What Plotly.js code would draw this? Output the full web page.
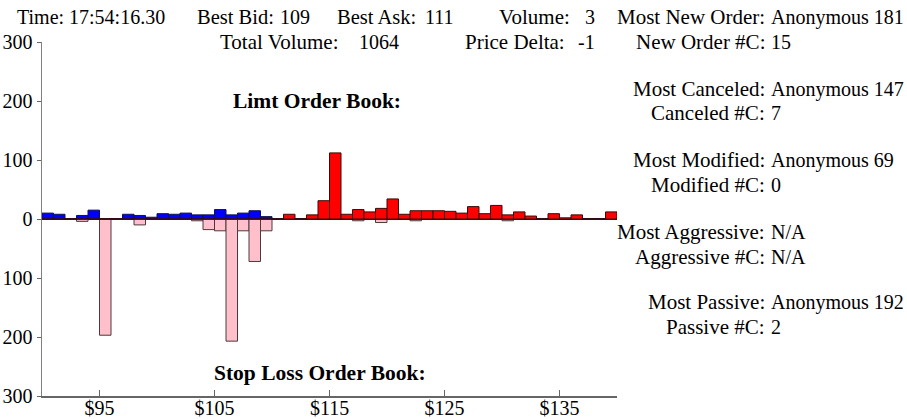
<!DOCTYPE html>
<html>
<head>
<meta charset="utf-8">
<script src="https://cdn.plot.ly/plotly-3.0.1.min.js"></script>
<style>
  html, body { margin: 0; padding: 0; background: #fff; }
  #chart { width: 907px; height: 419px; }
</style>
</head>
<body>
<div id="chart"></div>
<script>
// ---------- data ----------
const prices = [90,91,92,93,94,95,96,97,98,99,100,101,102,103,104,105,106,107,108,109,
                110,111,112,113,114,115,116,117,118,119,120,121,122,123,124,125,126,127,128,129,
                130,131,132,133,134,135,136,137,138,139];
// limit bids (blue, above zero)
const bidVolumes = [10,8,0,6,15,0,0,8,6,3,9,8,10,7,7,16,7,10,14,4,
                    0,0,0,0,0,0,0,0,0,0,0,0,0,0,0,0,0,0,0,0,
                    0,0,0,0,0,0,0,0,0,0];
// limit asks (red, above zero)
const askVolumes = [0,0,0,0,0,0,0,0,0,0,0,0,0,0,0,0,0,0,0,0,
                    0,8,0,7,31,112,8,16,12,18,34,8,14,14,14,13,10,21,9,23,
                    7,12,5,0,9,2,7,0,0,12];
// stop loss book (pink, below zero)
const stopVolumes = [0,0,0,4,0,197,0,0,10,0,0,0,0,3,18,20,207,20,72,20,
                     0,0,0,0,0,0,0,3,0,6,0,0,3,0,0,0,0,0,0,0,
                     3,0,0,0,0,0,0,0,0,0];
const xTickVals = [95,105,115,125,135];
const xTickText = ['$95','$105','$115','$125','$135'];
const yTickVals = [-300,-200,-100,0,100,200,300];
const yTickText = ['300','200','100','0','100','200','300'];

// [text, anchor, x px, y px, font size]
const headerTexts = [
  ['Time: 17:54:16.30', 'left', 15, 17, 20],
  ['Best Bid:', 'left', 195, 17, 20.5],
  ['109', 'left', 278, 17, 20],
  ['Best Ask:', 'left', 335, 17, 20.5],
  ['111', 'left', 423, 17, 20],
  ['Volume:', 'left', 497, 17, 21],
  ['3', 'right', 597, 17, 20],
  ['Total Volume:', 'left', 218, 42, 21],
  ['1064', 'left', 357, 42, 20],
  ['Price Delta:', 'left', 463, 42, 21],
  ['-1', 'right', 597, 42, 20]
];
const statLabels = ['Most New Order:', 'New Order #C:', 'Most Canceled:', 'Canceled #C:',
                    'Most Modified:', 'Modified #C:', 'Most Aggressive:', 'Aggressive #C:',
                    'Most Passive:', 'Passive #C:'];
const statValues = ['Anonymous 181', '15', 'Anonymous 147', '7', 'Anonymous 69', '0',
                    'N/A', 'N/A', 'Anonymous 192', '2'];
const statRowsY = [17, 42, 89, 113, 160, 185, 232, 257, 302, 327];
const statColonX = 767;

// ---------- layout helpers ----------
const W = 907, H = 419;
const M = {l: 42, r: 290, t: 42, b: 23};
const PW = W - M.l - M.r, PH = H - M.t - M.b;
const px = x => (x - M.l) / PW;
const py = y => (H - M.b - y) / PH;
const FONT = '"Liberation Serif", "Times New Roman", Times, serif';

const annotations = [];
headerTexts.forEach(([t, a, x, y, s]) => annotations.push({
  text: t, xref: 'paper', yref: 'paper', x: px(x), y: py(y),
  xanchor: a, yanchor: 'middle', showarrow: false,
  font: {family: FONT, size: s, color: '#000'}
}));
statLabels.forEach((t, i) => {
  annotations.push({
    text: t, xref: 'paper', yref: 'paper', x: px(statColonX), y: py(statRowsY[i]),
    xanchor: 'right', yanchor: 'middle', showarrow: false,
    font: {family: FONT, size: 21, color: '#000'}
  });
  annotations.push({
    text: statValues[i], xref: 'paper', yref: 'paper', x: px(statColonX + 2), y: py(statRowsY[i]),
    xanchor: 'left', yanchor: 'middle', showarrow: false,
    font: {family: FONT, size: 20, color: '#000'}
  });
});
annotations.push({
  text: '<b>Limt Order Book:</b>', xref: 'paper', yref: 'paper', x: px(317), y: py(101),
  xanchor: 'center', yanchor: 'middle', showarrow: false,
  font: {family: FONT, size: 21.5, color: '#000'}
});
annotations.push({
  text: '<b>Stop Loss Order Book:</b>', xref: 'paper', yref: 'paper', x: px(320), y: py(373),
  xanchor: 'center', yanchor: 'middle', showarrow: false,
  font: {family: FONT, size: 21.5, color: '#000'}
});

const barCommon = {type: 'bar', x: prices, width: 1, offset: 0, hoverinfo: 'skip'};
const traces = [
  Object.assign({}, barCommon, {
    y: stopVolumes.map(v => -v), name: 'Stop Loss',
    marker: {color: '#FFC0CB', line: {color: '#4a3a3c', width: 1}}
  }),
  Object.assign({}, barCommon, {
    y: bidVolumes, name: 'Bids',
    marker: {color: '#0000FF', line: {color: '#10104a', width: 1}}
  }),
  Object.assign({}, barCommon, {
    y: askVolumes, name: 'Asks',
    marker: {color: '#FF0000', line: {color: '#3a0a0a', width: 1}}
  })
];

const layout = {
  width: W, height: H,
  margin: {l: M.l, r: M.r, t: M.t, b: M.b, pad: 0, autoexpand: false},
  paper_bgcolor: '#fff', plot_bgcolor: '#fff',
  showlegend: false, barmode: 'overlay',
  font: {family: FONT, size: 20, color: '#000'},
  xaxis: {
    range: [90, 140], tickvals: xTickVals, ticktext: xTickText,
    showgrid: false, zeroline: false, showline: true, linecolor: '#666', linewidth: 1.5,
    ticks: 'inside', ticklen: 6, tickcolor: '#666', tickwidth: 1,
    ticklabelstandoff: -7,
    tickfont: {family: FONT, size: 20, color: '#000'}, fixedrange: true
  },
  yaxis: {
    range: [-300, 300], tickvals: yTickVals, ticktext: yTickText,
    showgrid: false, zeroline: true, zerolinecolor: '#000', zerolinewidth: 2,
    showline: true, linecolor: '#808080', linewidth: 1.5,
    ticks: 'outside', ticklen: 4, tickcolor: '#666', tickwidth: 1,
    tickfont: {family: FONT, size: 20, color: '#000'}, fixedrange: true
  },
  annotations: annotations
};

Plotly.newPlot('chart', traces, layout, {displayModeBar: false, staticPlot: true});
</script>
</body>
</html>
